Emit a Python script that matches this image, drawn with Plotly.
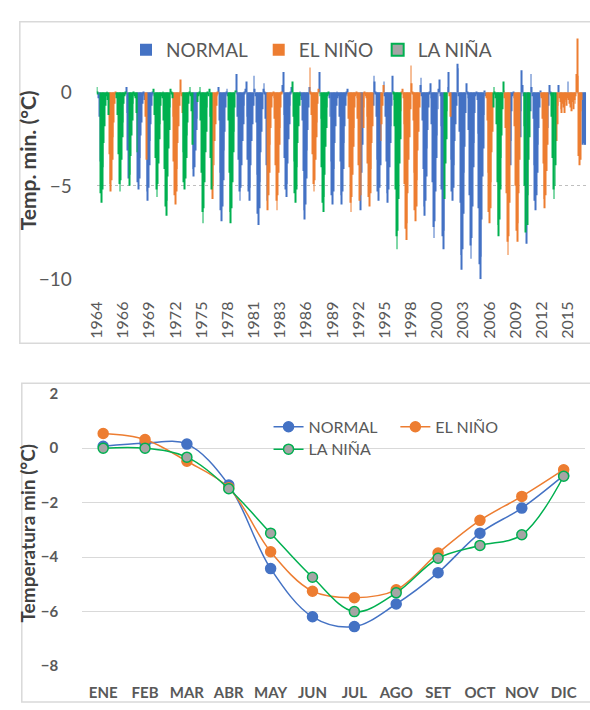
import plotly.graph_objects as go

W, H = 590, 710

# ------------------------------------------------------------------
# TOP CHART DATA: monthly minimum temperature (°C), one row per year
# ------------------------------------------------------------------
years = list(range(1964, 2017))

tmin_1964_1969 = [
    [0.3, -0.1, -0.3, -1.3, -3.7, -5.4, -5.9, -5.2, -4.0, -2.7, -1.8, -0.7],
    [-0.2, -0.1, -0.4, -1.2, -3.3, -4.9, -5.3, -4.7, -3.6, -2.4, -1.6, -0.6],
    [-0.1, -0.3, -0.2, -1.2, -3.3, -4.9, -5.3, -4.7, -3.6, -2.4, -1.6, -0.6],
    [-0.2, -0.1, 0.3, -1.1, -3.1, -4.6, -5.0, -4.4, -3.4, -2.3, -1.5, -0.6],
    [-0.1, -0.2, -0.3, -1.1, -3.2, -4.8, -5.2, -4.6, -3.5, -2.3, -1.6, -0.6],
    [-0.2, -0.1, -0.4, -1.3, -3.6, -5.3, -5.8, -5.1, -3.9, -2.6, -1.7, -0.7],
]
tmin_1970_1979 = [
    [-0.1, -0.2, 0.2, -1.2, -3.5, -5.2, -5.6, -4.9, -3.8, -2.5, -1.7, -0.7],
    [-0.2, -0.3, -0.1, -1.5, -4.1, -6.1, -6.6, -5.8, -4.5, -3.0, -2.0, -0.8],
    [0.2, -0.1, -0.3, -1.3, -3.7, -5.5, -6.0, -5.3, -4.1, -2.7, -1.8, -0.7],
    [-0.1, 0.7, -0.2, -1.1, -3.2, -4.8, -5.2, -4.6, -3.5, -2.3, -1.6, -0.6],
    [-0.1, 0.3, -0.2, -1.0, -2.8, -4.1, -4.5, -4.0, -3.1, -2.0, -1.4, -0.5],
    [-0.2, -0.1, 0.3, -1.5, -4.3, -6.4, -7.0, -6.2, -4.8, -3.2, -2.1, -0.8],
    [-0.1, -0.2, 0.2, -1.3, -3.5, -5.2, -5.7, -5.0, -3.9, -2.6, -1.7, -0.7],
    [-0.2, -0.1, 0.3, -1.5, -4.3, -6.3, -6.9, -6.1, -4.7, -3.1, -2.1, -0.8],
    [-0.1, 0.2, -0.2, -1.5, -4.3, -6.4, -7.0, -6.2, -4.8, -3.2, -2.1, -0.8],
    [0.1, 1.0, -0.1, -1.3, -3.6, -5.3, -5.8, -5.1, -3.9, -2.6, -1.7, -0.7],
]
tmin_1980_1989 = [
    [-0.1, 0.2, 0.6, -1.3, -3.6, -5.3, -5.8, -5.1, -3.9, -2.6, -1.7, -0.7],
    [0.9, 0.2, -0.2, -1.6, -4.4, -6.5, -7.1, -6.2, -4.8, -3.2, -2.1, -0.9],
    [0.2, 0.5, -0.1, -1.4, -3.9, -5.8, -6.3, -5.5, -4.3, -2.8, -1.9, -0.8],
    [-0.2, -0.1, -0.3, -1.4, -3.9, -5.8, -6.3, -5.5, -4.3, -2.8, -1.9, -0.8],
    [-0.1, 0.4, 1.1, -1.2, -3.5, -5.2, -5.6, -4.9, -3.8, -2.5, -1.7, -0.7],
    [-0.1, 0.3, 0.6, -1.3, -3.7, -5.4, -5.9, -5.2, -4.0, -2.7, -1.8, -0.7],
    [-0.1, -0.2, -0.4, -1.5, -4.2, -6.3, -6.8, -6.0, -4.6, -3.1, -2.0, -0.8],
    [0.3, 1.35, -0.1, -1.2, -3.3, -4.9, -5.3, -4.7, -3.6, -2.4, -1.6, -0.6],
    [0.2, 1.1, -0.2, -1.4, -4.0, -5.9, -6.4, -5.6, -4.4, -2.9, -1.9, -0.8],
    [-0.2, -0.1, -0.3, -1.3, -3.7, -5.5, -6.0, -5.3, -4.1, -2.7, -1.8, -0.7],
]
tmin_1990_1999 = [
    [-0.1, -0.3, -0.2, -1.3, -3.7, -5.5, -6.0, -5.3, -4.1, -2.7, -1.8, -0.7],
    [-0.1, -0.2, 0.2, -1.4, -4.0, -5.9, -6.4, -5.6, -4.4, -2.9, -1.9, -0.8],
    [-0.2, -0.1, -0.3, -1.4, -3.9, -5.8, -6.3, -5.5, -4.3, -2.8, -1.9, -0.8],
    [-0.1, -0.2, -0.3, -1.3, -3.8, -5.6, -6.1, -5.4, -4.1, -2.7, -1.8, -0.7],
    [0.9, 0.6, -0.1, -1.3, -3.6, -5.3, -5.8, -5.1, -3.9, -2.6, -1.7, -0.7],
    [0.4, 0.6, -0.2, -1.3, -3.7, -5.4, -5.9, -5.2, -4.0, -2.7, -1.8, -0.7],
    [0.9, -0.1, -0.4, -1.8, -5.2, -7.7, -8.4, -7.4, -5.7, -3.8, -2.5, -1.0],
    [-0.1, 0.2, -0.3, -1.7, -4.9, -7.3, -7.9, -7.0, -5.4, -3.6, -2.4, -0.9],
    [1.45, 0.5, -0.1, -1.5, -4.3, -6.3, -6.9, -6.1, -4.7, -3.1, -2.1, -0.8],
    [0.4, 0.8, -0.2, -1.5, -4.1, -6.1, -6.6, -5.8, -4.5, -3.0, -2.0, -0.8],
]
tmin_2000_2009 = [
    [-0.1, 0.5, -0.3, -1.7, -4.8, -7.2, -7.8, -6.9, -5.3, -3.5, -2.3, -0.9],
    [0.2, 0.7, -0.2, -1.8, -5.2, -7.7, -8.4, -7.4, -5.7, -3.8, -2.5, -1.0],
    [0.3, 1.1, -0.2, -1.3, -3.6, -5.3, -5.8, -5.1, -3.9, -2.6, -1.7, -0.7],
    [1.55, 1.3, -0.2, -2.1, -5.9, -8.7, -9.5, -8.4, -6.5, -4.3, -2.9, -1.1],
    [0.5, -0.1, -0.3, -2.0, -5.5, -8.2, -8.9, -7.8, -6.1, -4.0, -2.7, -1.1],
    [-0.2, -0.1, -0.4, -2.2, -6.2, -9.2, -10.0, -8.8, -6.8, -4.5, -3.0, -1.2],
    [0.1, -0.2, -0.3, -1.5, -4.3, -6.4, -7.0, -6.2, -4.8, -3.2, -2.1, -0.8],
    [0.3, -0.1, -0.3, -1.7, -4.8, -7.1, -7.7, -6.8, -5.2, -3.5, -2.3, -0.9],
    [0.6, 0.1, -0.3, -1.9, -5.4, -8.0, -8.7, -7.7, -5.9, -3.9, -2.6, -1.0],
    [-0.2, -0.1, -0.3, -1.8, -5.0, -7.4, -8.0, -7.0, -5.4, -3.6, -2.4, -1.0],
]
tmin_2010_2016 = [
    [1.2, 0.4, -0.2, -1.8, -5.0, -7.5, -8.1, -7.1, -5.5, -3.6, -2.4, -1.0],
    [1.0, 0.3, -0.2, -1.4, -3.9, -5.8, -6.3, -5.5, -4.3, -2.8, -1.9, -0.8],
    [0.1, -0.2, -0.3, -1.4, -3.8, -5.7, -6.2, -5.5, -4.2, -2.8, -1.9, -0.7],
    [0.4, -0.1, -0.2, -1.3, -3.5, -5.2, -5.7, -5.0, -3.9, -2.6, -1.7, -0.7],
    [0.4, -0.3, -0.5, -0.9, -1.1, -0.6, -0.8, -1.1, -0.5, -0.4, -0.7, -0.3],
    [0.6, -0.4, -0.6, -0.8, -0.3, -1.0, -0.5, -0.9, -0.4, -0.6, -0.2, 1.0],
    [2.9, 0.9, -3.4, -3.9, -3.6, -1.0, -0.4, -2.8, -2.7, -2.8, -2.6, -2.8],
]

# ENSO phase of each month: N = NORMAL, E = EL NIÑO, L = LA NIÑA
phase_1964_1969 = ["LLNNNLLLLLLL", "LLLLEEEEEEEE", "ELLLLLLLLLLL",
                   "LLNNNNLLLLLL", "LLLLLNNNNNNN", "NNNEENNNNNNN"]
phase_1970_1979 = ["NNLLLLLLLLLL", "LLLLLLLLLLLL", "LLLEEEEEEEEE",
                   "EEEELLLLLLLL", "LLLLLNNNNNNL", "LLLLLLLLLLLL",
                   "LLLLLLEEEEEE", "EENNNNNNNNNN", "NNNLLLLLLLLL",
                   "LNNNNNNNNNNN"]
phase_1980_1989 = ["NNNNNNNNNNNN", "NNNNNNNNNNNN", "NNNNNNEEEEEE",
                   "EEEEEEEEEEEE", "ENNNNNNNNNNN", "NNLLLLLLLLLL",
                   "NNNNNNNNNNNN", "NEEEEEEEEEEE", "ENLLLLLLLLLL",
                   "LLNNNNNNNNNN"]
phase_1990_1999 = ["NNNNNNNNNNNN", "NNNEEEEEEEEE", "EEEEEENENNEE",
                   "EEEEEEEEEEEN", "NNNNNNNNNEEE", "ENNNNNNNNNNN",
                   "NLLLLLLLLLLE", "EEEEEEEEEEEE", "EEEEEEEEEEEE",
                   "NNNNNNNNNNNN"]
phase_2000_2009 = ["NNNNNNNNNNNN", "NNNNNNNNLLLL", "NNEENNNNNNNN",
                   "NNNNNNNNNNNN", "NNNNNNNNNNNN", "NNNNNNNNNNNN",
                   "NNEEEEEEEEEL", "LLLLLLLLLLLL", "LEEEEEEEENNN",
                   "NNNEEEEEEENN"]
phase_2010_2016 = ["NNNLLLNLLLLN", "NNNNNNNNNNNN", "NEEEEEEEEENN",
                   "NNLLLLLLLEEE", "NEEEEEEEEEEE", "NEEEEEEEEEEE",
                   "EEEEEEENNNNN"]

# category-axis labels (Excel shows one label every 34 months)
label_interval_months = 34
tick_years = ["1964", "1966", "1969", "1972", "1975", "1978", "1981", "1983",
              "1986", "1989", "1992", "1995", "1998", "2000", "2003", "2006",
              "2009", "2012", "2015"]

# ------------------------------------------------------------------
# BOTTOM CHART DATA: mean monthly minimum temperature by ENSO phase
# ------------------------------------------------------------------
months = ["ENE", "FEB", "MAR", "ABR", "MAY", "JUN", "JUL", "AGO", "SET",
          "OCT", "NOV", "DIC"]
normal_mean = [0.07, 0.18, 0.15, -1.35, -4.42, -6.19, -6.55, -5.72, -4.57,
               -3.12, -2.20, -1.00]
nino_mean = [0.54, 0.32, -0.48, -1.45, -3.80, -5.25, -5.49, -5.20, -3.85,
             -2.65, -1.77, -0.79]
nina_mean = [0.00, 0.00, -0.33, -1.49, -3.12, -4.74, -6.00, -5.31, -4.04,
             -3.57, -3.18, -1.03]

# ------------------------------------------------------------------
BLUE, ORANGE, GREEN, GREY = "#4472C4", "#ED7D31", "#00B050", "#A5A5A5"
TXT = "#595959"
FONT = "Lato"

tmin = [v for block in (tmin_1964_1969, tmin_1970_1979, tmin_1980_1989,
                        tmin_1990_1999, tmin_2000_2009, tmin_2010_2016)
        for row in block for v in row]
phase = "".join(p for block in (phase_1964_1969, phase_1970_1979,
                                phase_1980_1989, phase_1990_1999,
                                phase_2000_2009, phase_2010_2016)
                for p in block)
idx = list(range(len(tmin)))


def px(x):
    return x / W


def py(y):
    return 1 - y / H


fig = go.Figure()

series = [("N", "NORMAL", BLUE, "legend"),
          ("E", "EL NIÑO", ORANGE, "legend2"),
          ("L", "LA NIÑA", GREEN, "legend3")]
for code, name, col, leg in series:
    fig.add_trace(go.Bar(
        x=idx, y=[v if p == code else None for v, p in zip(tmin, phase)],
        name=name, marker=dict(color=col, line=dict(width=0)),
        width=1.0, xaxis="x", yaxis="y", legend=leg,
        showlegend=(code != "L")))
# legend swatch for LA NIÑA as drawn by Excel (grey with green border)
fig.add_trace(go.Scatter(
    x=[None], y=[None], mode="markers", name="LA NIÑA",
    marker=dict(symbol="square", size=12, color=GREY,
                line=dict(color=GREEN, width=2)),
    xaxis="x", yaxis="y", legend="legend3"))

# bottom chart
for name, vals, col, fill, leg in [
        ("NORMAL", normal_mean, BLUE, BLUE, "legend4"),
        ("EL NIÑO", nino_mean, ORANGE, ORANGE, "legend5"),
        ("LA NIÑA", nina_mean, GREEN, GREY, "legend6")]:
    fig.add_trace(go.Scatter(
        x=months, y=vals, name=name, mode="lines+markers",
        line=dict(color=col, width=1.5, shape="spline", smoothing=1.0),
        marker=dict(size=10, color=fill, line=dict(color=col, width=1.5)),
        xaxis="x2", yaxis="y2", legend=leg))

tickvals = [i * label_interval_months for i in range(len(tick_years))]

leg_common = dict(orientation="h", xanchor="left", yanchor="middle",
                  bgcolor="rgba(0,0,0,0)", borderwidth=0)

fig.update_layout(
    width=W, height=H, margin=dict(l=0, r=0, t=0, b=0),
    paper_bgcolor="white", plot_bgcolor="white",
    font=dict(family=FONT, color=TXT),
    barmode="overlay",
    xaxis=dict(domain=[px(88), px(586)], range=[-0.5, len(tmin) - 0.5],
               anchor="y",
               tickmode="array", tickvals=tickvals, ticktext=tick_years,
               tickangle=-90, tickfont=dict(size=16, color=TXT),
               ticks="outside", ticklen=15, tickcolor="rgba(0,0,0,0)",
               showgrid=False, zeroline=False, showline=False),
    yaxis=dict(domain=[py(278), py(28.4)], range=[-10, 3], anchor="x",
               tickmode="array", tickvals=[-10, -5, 0],
               tickfont=dict(size=19, color=TXT),
               ticks="outside", ticklen=20, tickcolor="rgba(0,0,0,0)",
               showgrid=True, gridcolor="#BFBFBF", griddash="dot",
               gridwidth=1, zeroline=True, zerolinecolor="#D9D9D9",
               zerolinewidth=2, showline=False),
    xaxis2=dict(domain=[px(73.5), px(584.5)], range=[-0.5, 11.5],
                type="category", anchor="y2",
                tickfont=dict(size=15, color=TXT, weight="bold"),
                ticks="outside", ticklen=12, tickcolor="rgba(0,0,0,0)",
                showgrid=False, zeroline=False, showline=False),
    yaxis2=dict(domain=[py(677), py(395)], range=[-8.03, 2.03], anchor="x2",
                tickmode="array", tickvals=[-8, -6, -4, -2, 0, 2],
                tickfont=dict(size=15, color=TXT, weight="bold"),
                ticks="outside", ticklen=20, tickcolor="rgba(0,0,0,0)",
                showgrid=True, gridcolor="#D9D9D9", gridwidth=1,
                zeroline=False, showline=False),
    legend=dict(x=px(118), y=py(42), font=dict(size=19, color=TXT), **leg_common),
    legend2=dict(x=px(253), y=py(42), font=dict(size=19, color=TXT), **leg_common),
    legend3=dict(x=px(374), y=py(42), font=dict(size=19, color=TXT), **leg_common),
    legend4=dict(x=px(263), y=py(430), font=dict(size=16, color=TXT), **leg_common),
    legend5=dict(x=px(392), y=py(430), font=dict(size=16, color=TXT), **leg_common),
    legend6=dict(x=px(263), y=py(453), font=dict(size=16, color=TXT), **leg_common),
    shapes=[
        dict(type="rect", xref="paper", yref="paper", x0=px(10), x1=px(593),
             y0=py(344), y1=py(13), line=dict(color="#D9D9D9", width=1.5),
             layer="below"),
        dict(type="rect", xref="paper", yref="paper", x0=px(12), x1=px(593),
             y0=py(713), y1=py(385), line=dict(color="#D9D9D9", width=1.5),
             layer="below"),
    ],
    annotations=[
        dict(text="Temp. min. (°C)", xref="paper", yref="paper",
             x=px(18), y=py(156), textangle=-90, showarrow=False,
             font=dict(size=21, color="#404040", weight="bold"),
             xanchor="center", yanchor="middle"),
        dict(text="Temperatura min (°C)", xref="paper", yref="paper",
             x=px(18), y=py(539), textangle=-90, showarrow=False,
             font=dict(size=19, color="#404040", weight="bold"),
             xanchor="center", yanchor="middle"),
    ],
)

fig.write_html("out.html")
